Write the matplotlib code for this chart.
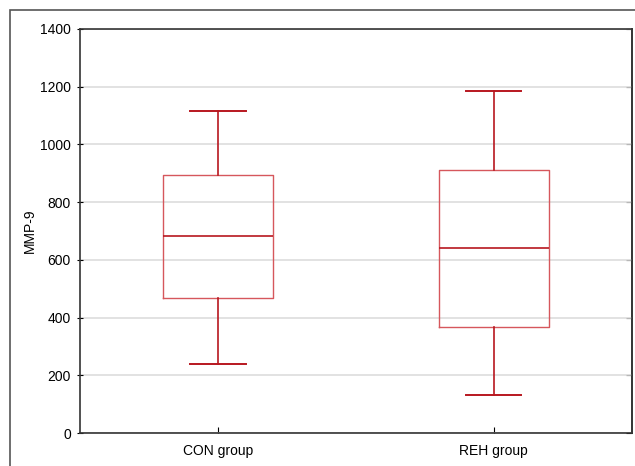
import matplotlib.pyplot as plt
from matplotlib.patches import Rectangle

# Valeurs
groups = ["CON group", "REH group"]
whisker_low = [239, 132]
q1 = [468, 367]
median = [683, 641]
q3 = [894, 911]
whisker_high = [1116, 1185]

plt.rcParams['font.family'] = ['Liberation Sans', 'DejaVu Sans']

fig = plt.figure(figsize=(6.35, 4.66), dpi=100)
ax = fig.add_axes([0.126, 0.0708, 0.869, 0.867])

# cadre extérieur (coupé à droite et en bas)
fig.patches.append(Rectangle((10 / 635, -0.1), 1.2, (466 - 10) / 466 + 0.1,
                             transform=fig.transFigure, fill=False,
                             edgecolor='#555555', linewidth=1.2))

stats = []
for i, g in enumerate(groups):
    stats.append({"label": g, "whislo": whisker_low[i], "q1": q1[i], "med": median[i],
                  "q3": q3[i], "whishi": whisker_high[i], "fliers": []})

ax.bxp(stats, positions=[0, 1], widths=0.4, showfliers=False,
       boxprops=dict(color='#d6575c', linewidth=1.0),
       medianprops=dict(color='#b8171f', linewidth=1.2),
       whiskerprops=dict(color='#b8171f', linewidth=1.2),
       capprops=dict(color='#b8171f', linewidth=1.4),
       capwidths=0.2)

ax.set_xlim(-0.5, 1.5)
ax.set_ylim(0, 1400)
ax.set_yticks(range(0, 1401, 200))
ax.set_xticks([0, 1])
ax.set_xticklabels(groups, fontsize=10)
ax.set_ylabel("MMP-9", fontsize=10, labelpad=2)
ax.yaxis.grid(True, color='#dddddd', linewidth=1.2)
ax.set_axisbelow(True)
ax.tick_params(axis='y', direction='inout', length=5, labelsize=10, pad=4)
ax.tick_params(axis='x', direction='in', length=4, pad=8)
for s in ax.spines.values():
    s.set_linewidth(1.2)
    s.set_color('#333333')

# graduations à droite, vers l'intérieur
ax_r = ax.secondary_yaxis('right')
ax_r.set_yticks(range(0, 1401, 200))
ax_r.tick_params(direction='in', length=4, labelright=False)
ax_r.spines['right'].set_linewidth(1.2)
ax_r.spines['right'].set_color('#333333')

plt.savefig("out.png", dpi=100)
